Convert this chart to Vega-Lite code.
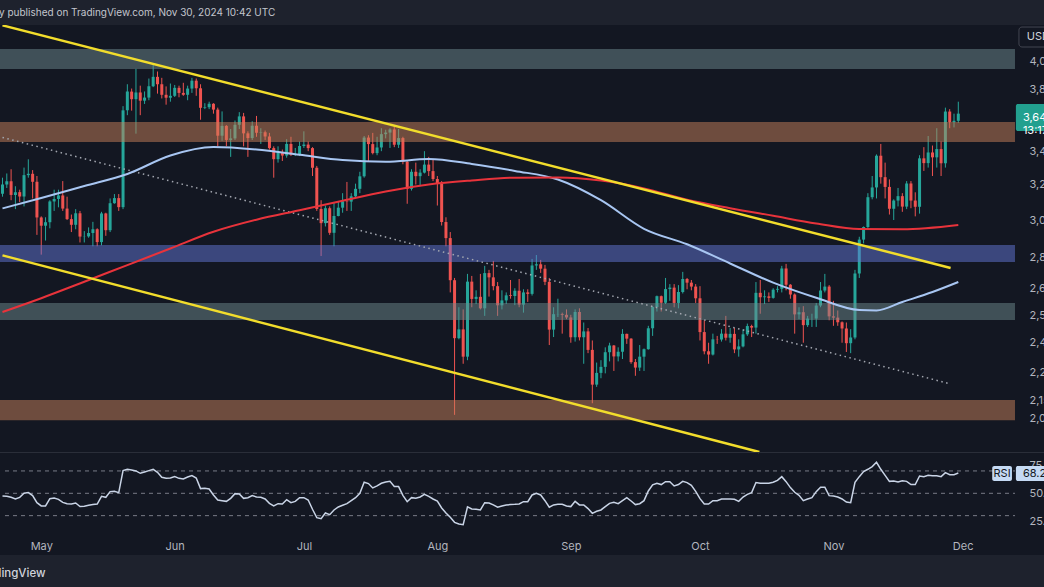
{
"$schema":"https://vega.github.io/schema/vega-lite/v6.json",
"width":1044,"height":530,
"autosize":{"type":"none"},
"padding":{"top":25,"left":0,"right":0,"bottom":32},
"background":"#1e222d",
"config":{"view":{"fill":"#131722","stroke":null},"font":"Inter"},
"title":{"text":"y published on TradingView.com, Nov 30, 2024 10:42 UTC","anchor":"start","frame":"group","offset":7,"dx":-1,"fontSize":10,"fontWeight":"normal","color":"#c3c6ce"},
"datasets":{
"candles":[
{"d":"2024-04-22","o":3147,"h":3240,"l":3130,"c":3200,"r":47.6},
{"d":"2024-04-23","o":3200,"h":3265,"l":3180,"c":3219,"r":47.3},
{"d":"2024-04-24","o":3219,"h":3290,"l":3110,"c":3140,"r":46.4},
{"d":"2024-04-25","o":3140,"h":3190,"l":3060,"c":3156,"r":44.9},
{"d":"2024-04-26","o":3156,"h":3170,"l":3100,"c":3131,"r":46.4},
{"d":"2024-04-27","o":3131,"h":3300,"l":3075,"c":3255,"r":50},
{"d":"2024-04-28","o":3255,"h":3350,"l":3240,"c":3263,"r":50.6},
{"d":"2024-04-29","o":3263,"h":3285,"l":3120,"c":3216,"r":47.9},
{"d":"2024-04-30","o":3216,"h":3250,"l":2920,"c":3014,"r":41.6},
{"d":"2024-05-01","o":3014,"h":3020,"l":2817,"c":2969,"r":38.7},
{"d":"2024-05-02","o":2969,"h":3015,"l":2890,"c":2988,"r":38.7},
{"d":"2024-05-03","o":2988,"h":3110,"l":2955,"c":3103,"r":45.2},
{"d":"2024-05-04","o":3103,"h":3170,"l":3050,"c":3117,"r":45.8},
{"d":"2024-05-05","o":3117,"h":3170,"l":3070,"c":3137,"r":44.6},
{"d":"2024-05-06","o":3137,"h":3220,"l":3050,"c":3063,"r":41.9},
{"d":"2024-05-07","o":3063,"h":3130,"l":3000,"c":3005,"r":40.7},
{"d":"2024-05-08","o":3005,"h":3030,"l":2935,"c":2974,"r":40.4},
{"d":"2024-05-09","o":2974,"h":3060,"l":2950,"c":3037,"r":41.3},
{"d":"2024-05-10","o":3037,"h":3050,"l":2880,"c":2911,"r":38.1},
{"d":"2024-05-11","o":2911,"h":2940,"l":2880,"c":2912,"r":38.4},
{"d":"2024-05-12","o":2912,"h":2960,"l":2905,"c":2930,"r":39.3},
{"d":"2024-05-13","o":2930,"h":2990,"l":2860,"c":2950,"r":39.9},
{"d":"2024-05-14","o":2950,"h":2955,"l":2860,"c":2882,"r":40.4},
{"d":"2024-05-15","o":2882,"h":3045,"l":2865,"c":3036,"r":47.3},
{"d":"2024-05-16","o":3036,"h":3040,"l":2915,"c":2945,"r":46.4},
{"d":"2024-05-17","o":2945,"h":3120,"l":2935,"c":3093,"r":51.5},
{"d":"2024-05-18","o":3093,"h":3145,"l":3090,"c":3122,"r":51.8},
{"d":"2024-05-19","o":3122,"h":3145,"l":3050,"c":3071,"r":50.6},
{"d":"2024-05-20","o":3071,"h":3690,"l":3060,"c":3662,"r":70.3},
{"d":"2024-05-21","o":3662,"h":3840,"l":3630,"c":3789,"r":71.5},
{"d":"2024-05-22","o":3789,"h":3810,"l":3660,"c":3737,"r":70.9},
{"d":"2024-05-23","o":3737,"h":3949,"l":3510,"c":3783,"r":70},
{"d":"2024-05-24","o":3783,"h":3830,"l":3630,"c":3727,"r":67.9},
{"d":"2024-05-25","o":3727,"h":3790,"l":3705,"c":3748,"r":69.1},
{"d":"2024-05-26","o":3748,"h":3880,"l":3730,"c":3826,"r":70.3},
{"d":"2024-05-27","o":3826,"h":3977,"l":3820,"c":3892,"r":71.5},
{"d":"2024-05-28","o":3892,"h":3930,"l":3775,"c":3840,"r":68.8},
{"d":"2024-05-29","o":3840,"h":3885,"l":3742,"c":3767,"r":64.3},
{"d":"2024-05-30","o":3767,"h":3825,"l":3700,"c":3747,"r":63.4},
{"d":"2024-05-31","o":3747,"h":3845,"l":3720,"c":3760,"r":63.7},
{"d":"2024-06-01","o":3760,"h":3835,"l":3752,"c":3815,"r":64.9},
{"d":"2024-06-02","o":3815,"h":3830,"l":3750,"c":3780,"r":63.4},
{"d":"2024-06-03","o":3780,"h":3850,"l":3760,"c":3767,"r":62.8},
{"d":"2024-06-04","o":3767,"h":3830,"l":3730,"c":3810,"r":64.6},
{"d":"2024-06-05","o":3810,"h":3885,"l":3780,"c":3865,"r":65.8},
{"d":"2024-06-06","o":3865,"h":3880,"l":3760,"c":3812,"r":63.7},
{"d":"2024-06-07","o":3812,"h":3840,"l":3600,"c":3679,"r":54.2},
{"d":"2024-06-08","o":3679,"h":3710,"l":3670,"c":3683,"r":54.5},
{"d":"2024-06-09","o":3683,"h":3720,"l":3670,"c":3706,"r":53.9},
{"d":"2024-06-10","o":3706,"h":3710,"l":3640,"c":3667,"r":48.5},
{"d":"2024-06-11","o":3667,"h":3680,"l":3430,"c":3497,"r":44},
{"d":"2024-06-12","o":3497,"h":3655,"l":3465,"c":3560,"r":43.4},
{"d":"2024-06-13","o":3560,"h":3565,"l":3430,"c":3470,"r":42.8},
{"d":"2024-06-14","o":3470,"h":3540,"l":3365,"c":3480,"r":45.5},
{"d":"2024-06-15","o":3480,"h":3595,"l":3470,"c":3567,"r":49.7},
{"d":"2024-06-16","o":3567,"h":3650,"l":3540,"c":3622,"r":49.4},
{"d":"2024-06-17","o":3622,"h":3645,"l":3430,"c":3512,"r":45.5},
{"d":"2024-06-18","o":3512,"h":3525,"l":3365,"c":3482,"r":46.1},
{"d":"2024-06-19","o":3482,"h":3590,"l":3470,"c":3561,"r":47.9},
{"d":"2024-06-20","o":3561,"h":3625,"l":3490,"c":3516,"r":46.7},
{"d":"2024-06-21","o":3516,"h":3545,"l":3445,"c":3519,"r":46.4},
{"d":"2024-06-22","o":3519,"h":3530,"l":3470,"c":3492,"r":44.9},
{"d":"2024-06-23","o":3492,"h":3515,"l":3410,"c":3419,"r":41},
{"d":"2024-06-24","o":3419,"h":3430,"l":3240,"c":3351,"r":38.7},
{"d":"2024-06-25","o":3351,"h":3430,"l":3330,"c":3394,"r":40.7},
{"d":"2024-06-26","o":3394,"h":3410,"l":3340,"c":3373,"r":40.4},
{"d":"2024-06-27","o":3373,"h":3475,"l":3360,"c":3445,"r":44.3},
{"d":"2024-06-28","o":3445,"h":3490,"l":3370,"c":3378,"r":41.6},
{"d":"2024-06-29","o":3378,"h":3420,"l":3370,"c":3381,"r":42.8},
{"d":"2024-06-30","o":3381,"h":3460,"l":3370,"c":3432,"r":46.1},
{"d":"2024-07-01","o":3432,"h":3525,"l":3420,"c":3441,"r":46.1},
{"d":"2024-07-02","o":3441,"h":3460,"l":3400,"c":3419,"r":44},
{"d":"2024-07-03","o":3419,"h":3425,"l":3250,"c":3299,"r":35.7},
{"d":"2024-07-04","o":3299,"h":3310,"l":3050,"c":3061,"r":28.2},
{"d":"2024-07-05","o":3061,"h":3110,"l":2810,"c":2983,"r":27.3},
{"d":"2024-07-06","o":2983,"h":3080,"l":2965,"c":3065,"r":32.4},
{"d":"2024-07-07","o":3065,"h":3075,"l":2920,"c":2931,"r":30.9},
{"d":"2024-07-08","o":2931,"h":3095,"l":2860,"c":3022,"r":35.1},
{"d":"2024-07-09","o":3022,"h":3100,"l":3020,"c":3068,"r":37.8},
{"d":"2024-07-10","o":3068,"h":3150,"l":3040,"c":3104,"r":39.3},
{"d":"2024-07-11","o":3104,"h":3215,"l":3050,"c":3102,"r":40.7},
{"d":"2024-07-12","o":3102,"h":3150,"l":3050,"c":3132,"r":43.4},
{"d":"2024-07-13","o":3132,"h":3205,"l":3120,"c":3175,"r":46.1},
{"d":"2024-07-14","o":3175,"h":3275,"l":3150,"c":3248,"r":50},
{"d":"2024-07-15","o":3248,"h":3495,"l":3240,"c":3485,"r":59.9},
{"d":"2024-07-16","o":3485,"h":3500,"l":3340,"c":3444,"r":58.7},
{"d":"2024-07-17","o":3444,"h":3515,"l":3380,"c":3388,"r":54.8},
{"d":"2024-07-18","o":3388,"h":3490,"l":3375,"c":3423,"r":56.6},
{"d":"2024-07-19","o":3423,"h":3545,"l":3400,"c":3507,"r":59},
{"d":"2024-07-20","o":3507,"h":3535,"l":3480,"c":3517,"r":60.1},
{"d":"2024-07-21","o":3517,"h":3545,"l":3420,"c":3537,"r":60.7},
{"d":"2024-07-22","o":3537,"h":3565,"l":3425,"c":3440,"r":56},
{"d":"2024-07-23","o":3440,"h":3540,"l":3420,"c":3482,"r":56},
{"d":"2024-07-24","o":3482,"h":3490,"l":3320,"c":3335,"r":48.2},
{"d":"2024-07-25","o":3335,"h":3345,"l":3090,"c":3175,"r":42.5},
{"d":"2024-07-26","o":3175,"h":3290,"l":3165,"c":3275,"r":46.1},
{"d":"2024-07-27","o":3275,"h":3330,"l":3200,"c":3249,"r":45.5},
{"d":"2024-07-28","o":3249,"h":3290,"l":3190,"c":3270,"r":46.7},
{"d":"2024-07-29","o":3270,"h":3400,"l":3265,"c":3318,"r":49.1},
{"d":"2024-07-30","o":3318,"h":3365,"l":3250,"c":3279,"r":47.3},
{"d":"2024-07-31","o":3279,"h":3350,"l":3220,"c":3232,"r":44.9},
{"d":"2024-08-01","o":3232,"h":3250,"l":3080,"c":3203,"r":43.1},
{"d":"2024-08-02","o":3203,"h":3220,"l":2970,"c":2989,"r":36.9},
{"d":"2024-08-03","o":2989,"h":3015,"l":2860,"c":2903,"r":32.4},
{"d":"2024-08-04","o":2903,"h":2935,"l":2630,"c":2689,"r":28.5},
{"d":"2024-08-05","o":2689,"h":2700,"l":2105,"c":2420,"r":24},
{"d":"2024-08-06","o":2420,"h":2560,"l":2415,"c":2459,"r":22.5},
{"d":"2024-08-07","o":2459,"h":2550,"l":2310,"c":2340,"r":21.9},
{"d":"2024-08-08","o":2340,"h":2720,"l":2325,"c":2682,"r":37.8},
{"d":"2024-08-09","o":2682,"h":2710,"l":2560,"c":2599,"r":36},
{"d":"2024-08-10","o":2599,"h":2640,"l":2575,"c":2609,"r":35.7},
{"d":"2024-08-11","o":2609,"h":2720,"l":2550,"c":2555,"r":35.1},
{"d":"2024-08-12","o":2555,"h":2760,"l":2520,"c":2724,"r":41.6},
{"d":"2024-08-13","o":2724,"h":2740,"l":2610,"c":2703,"r":41.3},
{"d":"2024-08-14","o":2703,"h":2785,"l":2640,"c":2660,"r":39.6},
{"d":"2024-08-15","o":2660,"h":2680,"l":2520,"c":2569,"r":37.5},
{"d":"2024-08-16","o":2569,"h":2640,"l":2550,"c":2592,"r":38.7},
{"d":"2024-08-17","o":2592,"h":2630,"l":2575,"c":2616,"r":39.6},
{"d":"2024-08-18","o":2616,"h":2690,"l":2600,"c":2613,"r":39.9},
{"d":"2024-08-19","o":2613,"h":2650,"l":2570,"c":2638,"r":40.1},
{"d":"2024-08-20","o":2638,"h":2695,"l":2560,"c":2572,"r":40.4},
{"d":"2024-08-21","o":2572,"h":2645,"l":2535,"c":2630,"r":42.5},
{"d":"2024-08-22","o":2630,"h":2645,"l":2585,"c":2623,"r":42.5},
{"d":"2024-08-23","o":2623,"h":2795,"l":2615,"c":2762,"r":48.5},
{"d":"2024-08-24","o":2762,"h":2815,"l":2740,"c":2768,"r":50},
{"d":"2024-08-25","o":2768,"h":2790,"l":2725,"c":2746,"r":48.5},
{"d":"2024-08-26","o":2746,"h":2765,"l":2665,"c":2681,"r":43.4},
{"d":"2024-08-27","o":2681,"h":2700,"l":2390,"c":2458,"r":37.5},
{"d":"2024-08-28","o":2458,"h":2560,"l":2425,"c":2528,"r":39.6},
{"d":"2024-08-29","o":2528,"h":2600,"l":2515,"c":2529,"r":40.1},
{"d":"2024-08-30","o":2529,"h":2535,"l":2440,"c":2525,"r":40.1},
{"d":"2024-08-31","o":2525,"h":2550,"l":2505,"c":2513,"r":38.7},
{"d":"2024-09-01","o":2513,"h":2525,"l":2400,"c":2424,"r":38.1},
{"d":"2024-09-02","o":2424,"h":2550,"l":2405,"c":2538,"r":42.8},
{"d":"2024-09-03","o":2538,"h":2555,"l":2410,"c":2424,"r":39.6},
{"d":"2024-09-04","o":2424,"h":2490,"l":2310,"c":2450,"r":39.6},
{"d":"2024-09-05","o":2450,"h":2465,"l":2355,"c":2369,"r":36.3},
{"d":"2024-09-06","o":2369,"h":2410,"l":2150,"c":2224,"r":32.1},
{"d":"2024-09-07","o":2224,"h":2315,"l":2215,"c":2272,"r":33.9},
{"d":"2024-09-08","o":2272,"h":2325,"l":2250,"c":2297,"r":35.1},
{"d":"2024-09-09","o":2297,"h":2380,"l":2270,"c":2359,"r":38.1},
{"d":"2024-09-10","o":2359,"h":2400,"l":2320,"c":2388,"r":41},
{"d":"2024-09-11","o":2388,"h":2390,"l":2280,"c":2341,"r":41.9},
{"d":"2024-09-12","o":2341,"h":2380,"l":2320,"c":2361,"r":40.7},
{"d":"2024-09-13","o":2361,"h":2460,"l":2330,"c":2439,"r":43.4},
{"d":"2024-09-14","o":2439,"h":2440,"l":2395,"c":2418,"r":46.1},
{"d":"2024-09-15","o":2418,"h":2420,"l":2310,"c":2317,"r":43.1},
{"d":"2024-09-16","o":2317,"h":2330,"l":2260,"c":2294,"r":39.9},
{"d":"2024-09-17","o":2294,"h":2390,"l":2280,"c":2340,"r":40.7},
{"d":"2024-09-18","o":2340,"h":2375,"l":2280,"c":2372,"r":43.4},
{"d":"2024-09-19","o":2372,"h":2475,"l":2370,"c":2464,"r":52.1},
{"d":"2024-09-20","o":2464,"h":2565,"l":2430,"c":2561,"r":57.5},
{"d":"2024-09-21","o":2561,"h":2615,"l":2540,"c":2612,"r":59},
{"d":"2024-09-22","o":2612,"h":2615,"l":2540,"c":2581,"r":57.8},
{"d":"2024-09-23","o":2581,"h":2700,"l":2575,"c":2646,"r":60.4},
{"d":"2024-09-24","o":2646,"h":2670,"l":2590,"c":2653,"r":60.4},
{"d":"2024-09-25","o":2653,"h":2670,"l":2560,"c":2580,"r":56.6},
{"d":"2024-09-26","o":2580,"h":2665,"l":2555,"c":2632,"r":57.8},
{"d":"2024-09-27","o":2632,"h":2730,"l":2625,"c":2695,"r":60.7},
{"d":"2024-09-28","o":2695,"h":2700,"l":2645,"c":2677,"r":59.6},
{"d":"2024-09-29","o":2677,"h":2690,"l":2640,"c":2658,"r":57.2},
{"d":"2024-09-30","o":2658,"h":2670,"l":2580,"c":2602,"r":51.8},
{"d":"2024-10-01","o":2602,"h":2660,"l":2410,"c":2447,"r":45.2},
{"d":"2024-10-02","o":2447,"h":2500,"l":2350,"c":2363,"r":40.4},
{"d":"2024-10-03","o":2363,"h":2400,"l":2310,"c":2349,"r":40.4},
{"d":"2024-10-04","o":2349,"h":2440,"l":2345,"c":2415,"r":43.4},
{"d":"2024-10-05","o":2415,"h":2430,"l":2395,"c":2414,"r":43.4},
{"d":"2024-10-06","o":2414,"h":2460,"l":2405,"c":2440,"r":44.9},
{"d":"2024-10-07","o":2440,"h":2520,"l":2410,"c":2422,"r":44.9},
{"d":"2024-10-08","o":2422,"h":2465,"l":2400,"c":2439,"r":44.9},
{"d":"2024-10-09","o":2439,"h":2465,"l":2355,"c":2371,"r":44.6},
{"d":"2024-10-10","o":2371,"h":2415,"l":2340,"c":2384,"r":42.8},
{"d":"2024-10-11","o":2384,"h":2460,"l":2380,"c":2437,"r":46.7},
{"d":"2024-10-12","o":2437,"h":2485,"l":2430,"c":2474,"r":49.1},
{"d":"2024-10-13","o":2474,"h":2480,"l":2425,"c":2467,"r":50.6},
{"d":"2024-10-14","o":2467,"h":2680,"l":2440,"c":2628,"r":59.6},
{"d":"2024-10-15","o":2628,"h":2690,"l":2530,"c":2607,"r":59},
{"d":"2024-10-16","o":2607,"h":2640,"l":2575,"c":2611,"r":59},
{"d":"2024-10-17","o":2611,"h":2630,"l":2585,"c":2604,"r":59},
{"d":"2024-10-18","o":2604,"h":2650,"l":2600,"c":2643,"r":59.9},
{"d":"2024-10-19","o":2643,"h":2660,"l":2630,"c":2647,"r":61.6},
{"d":"2024-10-20","o":2647,"h":2760,"l":2630,"c":2747,"r":64.9},
{"d":"2024-10-21","o":2747,"h":2770,"l":2640,"c":2667,"r":60.4},
{"d":"2024-10-22","o":2667,"h":2670,"l":2600,"c":2620,"r":55.1},
{"d":"2024-10-23","o":2620,"h":2625,"l":2440,"c":2527,"r":50.9},
{"d":"2024-10-24","o":2527,"h":2560,"l":2505,"c":2537,"r":48.2},
{"d":"2024-10-25","o":2537,"h":2565,"l":2400,"c":2478,"r":43.4},
{"d":"2024-10-26","o":2478,"h":2520,"l":2470,"c":2508,"r":44.9},
{"d":"2024-10-27","o":2508,"h":2530,"l":2470,"c":2508,"r":46.1},
{"d":"2024-10-28","o":2508,"h":2580,"l":2470,"c":2568,"r":51.5},
{"d":"2024-10-29","o":2568,"h":2680,"l":2560,"c":2639,"r":55.4},
{"d":"2024-10-30","o":2639,"h":2720,"l":2630,"c":2658,"r":55.4},
{"d":"2024-10-31","o":2658,"h":2665,"l":2500,"c":2518,"r":47.9},
{"d":"2024-11-01","o":2518,"h":2590,"l":2475,"c":2512,"r":47.6},
{"d":"2024-11-02","o":2512,"h":2545,"l":2475,"c":2491,"r":46.7},
{"d":"2024-11-03","o":2491,"h":2495,"l":2400,"c":2463,"r":44.9},
{"d":"2024-11-04","o":2463,"h":2490,"l":2360,"c":2398,"r":42.2},
{"d":"2024-11-05","o":2398,"h":2460,"l":2355,"c":2423,"r":41.6},
{"d":"2024-11-06","o":2423,"h":2740,"l":2415,"c":2722,"r":59.9},
{"d":"2024-11-07","o":2722,"h":2910,"l":2700,"c":2895,"r":64.9},
{"d":"2024-11-08","o":2895,"h":2965,"l":2875,"c":2962,"r":69.4},
{"d":"2024-11-09","o":2962,"h":3150,"l":2950,"c":3127,"r":71.5},
{"d":"2024-11-10","o":3127,"h":3250,"l":3115,"c":3183,"r":73.9},
{"d":"2024-11-11","o":3183,"h":3380,"l":3120,"c":3372,"r":77.8},
{"d":"2024-11-12","o":3372,"h":3445,"l":3205,"c":3243,"r":71.5},
{"d":"2024-11-13","o":3243,"h":3330,"l":3120,"c":3186,"r":66.1},
{"d":"2024-11-14","o":3186,"h":3230,"l":3030,"c":3062,"r":60.7},
{"d":"2024-11-15","o":3062,"h":3115,"l":3000,"c":3108,"r":61},
{"d":"2024-11-16","o":3108,"h":3180,"l":3075,"c":3133,"r":60.1},
{"d":"2024-11-17","o":3133,"h":3150,"l":3045,"c":3074,"r":61.3},
{"d":"2024-11-18","o":3074,"h":3220,"l":3060,"c":3206,"r":60.7},
{"d":"2024-11-19","o":3206,"h":3220,"l":3065,"c":3108,"r":57.8},
{"d":"2024-11-20","o":3108,"h":3155,"l":3020,"c":3073,"r":57.8},
{"d":"2024-11-21","o":3073,"h":3375,"l":3035,"c":3356,"r":65.5},
{"d":"2024-11-22","o":3356,"h":3425,"l":3280,"c":3327,"r":64.9},
{"d":"2024-11-23","o":3327,"h":3495,"l":3300,"c":3392,"r":66.1},
{"d":"2024-11-24","o":3392,"h":3435,"l":3250,"c":3362,"r":65.8},
{"d":"2024-11-25","o":3362,"h":3545,"l":3300,"c":3413,"r":65.8},
{"d":"2024-11-26","o":3413,"h":3460,"l":3250,"c":3326,"r":64.9},
{"d":"2024-11-27","o":3326,"h":3680,"l":3300,"c":3654,"r":68.5},
{"d":"2024-11-28","o":3654,"h":3670,"l":3545,"c":3584,"r":66.7},
{"d":"2024-11-29","o":3584,"h":3640,"l":3550,"c":3593,"r":66.7},
{"d":"2024-11-30","o":3593,"h":3720,"l":3580,"c":3640,"r":68.2}
],
"zones":[
{"z":"a","d":"2024-04-01","d2":"2024-12-13T04:00:00Z","p1":4094,"p2":3948},
{"z":"b","d":"2024-04-01","d2":"2024-12-13T04:00:00Z","p1":3585,"p2":3457},
{"z":"c","d":"2024-04-01","d2":"2024-12-13T04:00:00Z","p1":2867,"p2":2780},
{"z":"d","d":"2024-04-01","d2":"2024-12-13T04:00:00Z","p1":2580,"p2":2501},
{"z":"e","d":"2024-04-01","d2":"2024-12-13T04:00:00Z","p1":2163,"p2":2085}
],
"lines":[
{"s":"up","d":"2024-04-22","p":4273.6},
{"s":"up","d":"2024-11-28T05:00:00Z","p":2749.6},
{"s":"low","d":"2024-04-22","p":2813},
{"s":"low","d":"2024-10-14T19:00:00Z","p":1967.6},
{"s":"dot","d":"2024-04-22","p":3486},
{"s":"dot","d":"2024-11-28T05:00:00Z","p":2226.7},
{"s":"ma200","d":"2024-04-22","p":2538},
{"s":"ma200","d":"2024-05-01","p":2602.5},
{"s":"ma200","d":"2024-05-11","p":2681.3},
{"s":"ma200","d":"2024-05-21","p":2764.0},
{"s":"ma200","d":"2024-05-31","p":2848.7},
{"s":"ma200","d":"2024-06-10","p":2936.5},
{"s":"ma200","d":"2024-06-20","p":3001.7},
{"s":"ma200","d":"2024-06-30","p":3054.0},
{"s":"ma200","d":"2024-07-10","p":3107.3},
{"s":"ma200","d":"2024-07-20","p":3159.1},
{"s":"ma200","d":"2024-07-30","p":3200.7},
{"s":"ma200","d":"2024-08-09","p":3224.1},
{"s":"ma200","d":"2024-08-19","p":3240.0},
{"s":"ma200","d":"2024-08-29","p":3241.1},
{"s":"ma200","d":"2024-09-08","p":3222.9},
{"s":"ma200","d":"2024-09-18","p":3177.5},
{"s":"ma200","d":"2024-09-28","p":3112.9},
{"s":"ma200","d":"2024-10-08","p":3065.2},
{"s":"ma200","d":"2024-10-18","p":3023.1},
{"s":"ma200","d":"2024-10-28","p":2981.6},
{"s":"ma200","d":"2024-11-07","p":2950.9},
{"s":"ma200","d":"2024-11-17","p":2949.8},
{"s":"ma200","d":"2024-11-30","p":2973.0},
{"s":"ma100","d":"2024-04-22","p":3064},
{"s":"ma100","d":"2024-05-01","p":3122.5},
{"s":"ma100","d":"2024-05-11","p":3191.4},
{"s":"ma100","d":"2024-05-21","p":3261.8},
{"s":"ma100","d":"2024-05-31","p":3373.4},
{"s":"ma100","d":"2024-06-10","p":3425.9},
{"s":"ma100","d":"2024-06-20","p":3410.4},
{"s":"ma100","d":"2024-06-30","p":3378.3},
{"s":"ma100","d":"2024-07-10","p":3345.9},
{"s":"ma100","d":"2024-07-20","p":3334.9},
{"s":"ma100","d":"2024-07-30","p":3352.0},
{"s":"ma100","d":"2024-08-09","p":3322.2},
{"s":"ma100","d":"2024-08-19","p":3280.2},
{"s":"ma100","d":"2024-08-29","p":3229.3},
{"s":"ma100","d":"2024-09-08","p":3110.1},
{"s":"ma100","d":"2024-09-18","p":2952.5},
{"s":"ma100","d":"2024-09-28","p":2870.5},
{"s":"ma100","d":"2024-10-08","p":2772.0},
{"s":"ma100","d":"2024-10-18","p":2676.9},
{"s":"ma100","d":"2024-10-28","p":2604.4},
{"s":"ma100","d":"2024-11-07","p":2546.8},
{"s":"ma100","d":"2024-11-11","p":2544.9},
{"s":"ma100","d":"2024-11-17","p":2584.6},
{"s":"ma100","d":"2024-11-24","p":2632.0},
{"s":"ma100","d":"2024-11-30","p":2680.3}
]
},
"layer":[
{"layer":[
 {"data":{"name":"candles"},"mark":{"type":"rule","strokeWidth":1,"clip":true},
  "encoding":{
   "x":{"field":"d","type":"temporal","scale":{"type":"utc","domain":[{"year":2024,"month":4,"date":22,"hours":14,"utc":true},{"year":2024,"month":12,"date":13,"hours":4,"utc":true}],"range":[0,1020]},"axis":{"orient":"bottom","offset":-17,"values":[{"year":2024,"month":5,"date":1,"utc":true},{"year":2024,"month":6,"date":1,"utc":true},{"year":2024,"month":7,"date":1,"utc":true},{"year":2024,"month":8,"date":1,"utc":true},{"year":2024,"month":9,"date":1,"utc":true},{"year":2024,"month":10,"date":1,"utc":true},{"year":2024,"month":11,"date":1,"utc":true},{"year":2024,"month":12,"date":1,"utc":true}],"format":"%b","domain":false,"ticks":false,"tickSize":0,"grid":false,"labelColor":"#b2b5be","labelFontSize":11,"labelPadding":2,"labelFlush":false,"labelOverlap":false,"title":"TradingView","titleAnchor":"start","titleAlign":"left","titleX":-24,"titleY":35,"titleBaseline":"middle","titleColor":"#d1d4dc","titleFontSize":11.5,"titleFontWeight":500}},
   "y":{"field":"l","type":"quantitative","scale":{"type":"log","domain":[1967.6,4276.7],"range":[427,0],"nice":false},"axis":{"orient":"right","offset":-24,"values":[4000,3800,3400,3200,3000,2800,2651,2520,2400,2275,2159,2093],"format":",.0f","domain":false,"ticks":false,"tickSize":0,"grid":false,"labelColor":"#b2b5be","labelFontSize":11,"labelPadding":9,"labelAlign":"left","labelBaseline":"middle","labelOverlap":false,"labelFlush":false,"labelBound":false,"title":null}},
   "y2":{"field":"h"},
   "color":{"condition":{"test":"datum.c >= datum.o","value":"#26a69a"},"value":"#ef5350"}}},
 {"data":{"name":"candles"},"mark":{"type":"bar","size":3,"clip":true},
  "encoding":{
   "x":{"field":"d","type":"temporal","scale":{"type":"utc","domain":[{"year":2024,"month":4,"date":22,"hours":14,"utc":true},{"year":2024,"month":12,"date":13,"hours":4,"utc":true}],"range":[0,1020]},"axis":{"orient":"bottom","offset":-17,"values":[{"year":2024,"month":5,"date":1,"utc":true},{"year":2024,"month":6,"date":1,"utc":true},{"year":2024,"month":7,"date":1,"utc":true},{"year":2024,"month":8,"date":1,"utc":true},{"year":2024,"month":9,"date":1,"utc":true},{"year":2024,"month":10,"date":1,"utc":true},{"year":2024,"month":11,"date":1,"utc":true},{"year":2024,"month":12,"date":1,"utc":true}],"format":"%b","domain":false,"ticks":false,"tickSize":0,"grid":false,"labelColor":"#b2b5be","labelFontSize":11,"labelPadding":2,"labelFlush":false,"labelOverlap":false,"title":"TradingView","titleAnchor":"start","titleAlign":"left","titleX":-24,"titleY":35,"titleBaseline":"middle","titleColor":"#d1d4dc","titleFontSize":11.5,"titleFontWeight":500}},
   "y":{"field":"o","type":"quantitative","scale":{"type":"log","domain":[1967.6,4276.7],"range":[427,0],"nice":false},"axis":{"orient":"right","offset":-24,"values":[4000,3800,3400,3200,3000,2800,2651,2520,2400,2275,2159,2093],"format":",.0f","domain":false,"ticks":false,"tickSize":0,"grid":false,"labelColor":"#b2b5be","labelFontSize":11,"labelPadding":9,"labelAlign":"left","labelBaseline":"middle","labelOverlap":false,"labelFlush":false,"labelBound":false,"title":null}},
   "y2":{"field":"c"},
   "color":{"condition":{"test":"datum.c >= datum.o","value":"#26a69a"},"value":"#ef5350"}}},
 {"data":{"name":"zones"},"mark":{"type":"rect","opacity":0.5,"clip":true},
  "encoding":{
   "x":{"field":"d","type":"temporal","scale":{"type":"utc","domain":[{"year":2024,"month":4,"date":22,"hours":14,"utc":true},{"year":2024,"month":12,"date":13,"hours":4,"utc":true}],"range":[0,1020]},"axis":{"orient":"bottom","offset":-17,"values":[{"year":2024,"month":5,"date":1,"utc":true},{"year":2024,"month":6,"date":1,"utc":true},{"year":2024,"month":7,"date":1,"utc":true},{"year":2024,"month":8,"date":1,"utc":true},{"year":2024,"month":9,"date":1,"utc":true},{"year":2024,"month":10,"date":1,"utc":true},{"year":2024,"month":11,"date":1,"utc":true},{"year":2024,"month":12,"date":1,"utc":true}],"format":"%b","domain":false,"ticks":false,"tickSize":0,"grid":false,"labelColor":"#b2b5be","labelFontSize":11,"labelPadding":2,"labelFlush":false,"labelOverlap":false,"title":"TradingView","titleAnchor":"start","titleAlign":"left","titleX":-24,"titleY":35,"titleBaseline":"middle","titleColor":"#d1d4dc","titleFontSize":11.5,"titleFontWeight":500}},
   "x2":{"field":"d2"},
   "y":{"field":"p1","type":"quantitative","scale":{"type":"log","domain":[1967.6,4276.7],"range":[427,0],"nice":false},"axis":{"orient":"right","offset":-24,"values":[4000,3800,3400,3200,3000,2800,2651,2520,2400,2275,2159,2093],"format":",.0f","domain":false,"ticks":false,"tickSize":0,"grid":false,"labelColor":"#b2b5be","labelFontSize":11,"labelPadding":9,"labelAlign":"left","labelBaseline":"middle","labelOverlap":false,"labelFlush":false,"labelBound":false,"title":null}},
   "y2":{"field":"p2"},
   "color":{"field":"z","type":"nominal","scale":{"domain":["a","b","c","d","e"],"range":["#6e8a8e","#c98159","#6478d8","#6d898c","#c98159"]},"legend":null}}},
 {"data":{"name":"lines"},"transform":[{"filter":"datum.s === 'dot'"}],
  "mark":{"type":"line","color":"#a3a7b0","strokeWidth":1.5,"strokeDash":[1.5,3.5],"clip":true},
  "encoding":{
   "x":{"field":"d","type":"temporal","scale":{"type":"utc","domain":[{"year":2024,"month":4,"date":22,"hours":14,"utc":true},{"year":2024,"month":12,"date":13,"hours":4,"utc":true}],"range":[0,1020]},"axis":{"orient":"bottom","offset":-17,"values":[{"year":2024,"month":5,"date":1,"utc":true},{"year":2024,"month":6,"date":1,"utc":true},{"year":2024,"month":7,"date":1,"utc":true},{"year":2024,"month":8,"date":1,"utc":true},{"year":2024,"month":9,"date":1,"utc":true},{"year":2024,"month":10,"date":1,"utc":true},{"year":2024,"month":11,"date":1,"utc":true},{"year":2024,"month":12,"date":1,"utc":true}],"format":"%b","domain":false,"ticks":false,"tickSize":0,"grid":false,"labelColor":"#b2b5be","labelFontSize":11,"labelPadding":2,"labelFlush":false,"labelOverlap":false,"title":"TradingView","titleAnchor":"start","titleAlign":"left","titleX":-24,"titleY":35,"titleBaseline":"middle","titleColor":"#d1d4dc","titleFontSize":11.5,"titleFontWeight":500}},
   "y":{"field":"p","type":"quantitative","scale":{"type":"log","domain":[1967.6,4276.7],"range":[427,0],"nice":false},"axis":{"orient":"right","offset":-24,"values":[4000,3800,3400,3200,3000,2800,2651,2520,2400,2275,2159,2093],"format":",.0f","domain":false,"ticks":false,"tickSize":0,"grid":false,"labelColor":"#b2b5be","labelFontSize":11,"labelPadding":9,"labelAlign":"left","labelBaseline":"middle","labelOverlap":false,"labelFlush":false,"labelBound":false,"title":null}}}},
 {"data":{"name":"lines"},"transform":[{"filter":"datum.s === 'ma100'"}],
  "mark":{"type":"line","color":"#a8c6f2","strokeWidth":2,"interpolate":"monotone","clip":true},
  "encoding":{
   "x":{"field":"d","type":"temporal","scale":{"type":"utc","domain":[{"year":2024,"month":4,"date":22,"hours":14,"utc":true},{"year":2024,"month":12,"date":13,"hours":4,"utc":true}],"range":[0,1020]},"axis":{"orient":"bottom","offset":-17,"values":[{"year":2024,"month":5,"date":1,"utc":true},{"year":2024,"month":6,"date":1,"utc":true},{"year":2024,"month":7,"date":1,"utc":true},{"year":2024,"month":8,"date":1,"utc":true},{"year":2024,"month":9,"date":1,"utc":true},{"year":2024,"month":10,"date":1,"utc":true},{"year":2024,"month":11,"date":1,"utc":true},{"year":2024,"month":12,"date":1,"utc":true}],"format":"%b","domain":false,"ticks":false,"tickSize":0,"grid":false,"labelColor":"#b2b5be","labelFontSize":11,"labelPadding":2,"labelFlush":false,"labelOverlap":false,"title":"TradingView","titleAnchor":"start","titleAlign":"left","titleX":-24,"titleY":35,"titleBaseline":"middle","titleColor":"#d1d4dc","titleFontSize":11.5,"titleFontWeight":500}},
   "y":{"field":"p","type":"quantitative","scale":{"type":"log","domain":[1967.6,4276.7],"range":[427,0],"nice":false},"axis":{"orient":"right","offset":-24,"values":[4000,3800,3400,3200,3000,2800,2651,2520,2400,2275,2159,2093],"format":",.0f","domain":false,"ticks":false,"tickSize":0,"grid":false,"labelColor":"#b2b5be","labelFontSize":11,"labelPadding":9,"labelAlign":"left","labelBaseline":"middle","labelOverlap":false,"labelFlush":false,"labelBound":false,"title":null}}}},
 {"data":{"name":"lines"},"transform":[{"filter":"datum.s === 'ma200'"}],
  "mark":{"type":"line","color":"#e8333b","strokeWidth":2,"interpolate":"monotone","clip":true},
  "encoding":{
   "x":{"field":"d","type":"temporal","scale":{"type":"utc","domain":[{"year":2024,"month":4,"date":22,"hours":14,"utc":true},{"year":2024,"month":12,"date":13,"hours":4,"utc":true}],"range":[0,1020]},"axis":{"orient":"bottom","offset":-17,"values":[{"year":2024,"month":5,"date":1,"utc":true},{"year":2024,"month":6,"date":1,"utc":true},{"year":2024,"month":7,"date":1,"utc":true},{"year":2024,"month":8,"date":1,"utc":true},{"year":2024,"month":9,"date":1,"utc":true},{"year":2024,"month":10,"date":1,"utc":true},{"year":2024,"month":11,"date":1,"utc":true},{"year":2024,"month":12,"date":1,"utc":true}],"format":"%b","domain":false,"ticks":false,"tickSize":0,"grid":false,"labelColor":"#b2b5be","labelFontSize":11,"labelPadding":2,"labelFlush":false,"labelOverlap":false,"title":"TradingView","titleAnchor":"start","titleAlign":"left","titleX":-24,"titleY":35,"titleBaseline":"middle","titleColor":"#d1d4dc","titleFontSize":11.5,"titleFontWeight":500}},
   "y":{"field":"p","type":"quantitative","scale":{"type":"log","domain":[1967.6,4276.7],"range":[427,0],"nice":false},"axis":{"orient":"right","offset":-24,"values":[4000,3800,3400,3200,3000,2800,2651,2520,2400,2275,2159,2093],"format":",.0f","domain":false,"ticks":false,"tickSize":0,"grid":false,"labelColor":"#b2b5be","labelFontSize":11,"labelPadding":9,"labelAlign":"left","labelBaseline":"middle","labelOverlap":false,"labelFlush":false,"labelBound":false,"title":null}}}},
 {"data":{"name":"lines"},"transform":[{"filter":"datum.s === 'up' || datum.s === 'low'"}],
  "mark":{"type":"line","color":"#f2dd2c","strokeWidth":2.5,"clip":true},
  "encoding":{
   "x":{"field":"d","type":"temporal","scale":{"type":"utc","domain":[{"year":2024,"month":4,"date":22,"hours":14,"utc":true},{"year":2024,"month":12,"date":13,"hours":4,"utc":true}],"range":[0,1020]},"axis":{"orient":"bottom","offset":-17,"values":[{"year":2024,"month":5,"date":1,"utc":true},{"year":2024,"month":6,"date":1,"utc":true},{"year":2024,"month":7,"date":1,"utc":true},{"year":2024,"month":8,"date":1,"utc":true},{"year":2024,"month":9,"date":1,"utc":true},{"year":2024,"month":10,"date":1,"utc":true},{"year":2024,"month":11,"date":1,"utc":true},{"year":2024,"month":12,"date":1,"utc":true}],"format":"%b","domain":false,"ticks":false,"tickSize":0,"grid":false,"labelColor":"#b2b5be","labelFontSize":11,"labelPadding":2,"labelFlush":false,"labelOverlap":false,"title":"TradingView","titleAnchor":"start","titleAlign":"left","titleX":-24,"titleY":35,"titleBaseline":"middle","titleColor":"#d1d4dc","titleFontSize":11.5,"titleFontWeight":500}},
   "y":{"field":"p","type":"quantitative","scale":{"type":"log","domain":[1967.6,4276.7],"range":[427,0],"nice":false},"axis":{"orient":"right","offset":-24,"values":[4000,3800,3400,3200,3000,2800,2651,2520,2400,2275,2159,2093],"format":",.0f","domain":false,"ticks":false,"tickSize":0,"grid":false,"labelColor":"#b2b5be","labelFontSize":11,"labelPadding":9,"labelAlign":"left","labelBaseline":"middle","labelOverlap":false,"labelFlush":false,"labelBound":false,"title":null}},
   "detail":{"field":"s","type":"nominal"}}},
 {"data":{"values":[{"t":"price"}]},"mark":{"type":"rect","fill":"#22a08f","cornerRadius":2,"clip":true},
  "encoding":{
   "x":{"datum":{"year":2024,"month":12,"date":13,"hours":9,"utc":true},"type":"temporal","scale":{"type":"utc","domain":[{"year":2024,"month":4,"date":22,"hours":14,"utc":true},{"year":2024,"month":12,"date":13,"hours":4,"utc":true}],"range":[0,1020]},"axis":{"orient":"bottom","offset":-17,"values":[{"year":2024,"month":5,"date":1,"utc":true},{"year":2024,"month":6,"date":1,"utc":true},{"year":2024,"month":7,"date":1,"utc":true},{"year":2024,"month":8,"date":1,"utc":true},{"year":2024,"month":9,"date":1,"utc":true},{"year":2024,"month":10,"date":1,"utc":true},{"year":2024,"month":11,"date":1,"utc":true},{"year":2024,"month":12,"date":1,"utc":true}],"format":"%b","domain":false,"ticks":false,"tickSize":0,"grid":false,"labelColor":"#b2b5be","labelFontSize":11,"labelPadding":2,"labelFlush":false,"labelOverlap":false,"title":"TradingView","titleAnchor":"start","titleAlign":"left","titleX":-24,"titleY":35,"titleBaseline":"middle","titleColor":"#d1d4dc","titleFontSize":11.5,"titleFontWeight":500}},
   "x2":{"datum":{"year":2024,"month":12,"date":22,"utc":true}},
   "y":{"datum":3704,"type":"quantitative","scale":{"type":"log","domain":[1967.6,4276.7],"range":[427,0],"nice":false},"axis":{"orient":"right","offset":-24,"values":[4000,3800,3400,3200,3000,2800,2651,2520,2400,2275,2159,2093],"format":",.0f","domain":false,"ticks":false,"tickSize":0,"grid":false,"labelColor":"#b2b5be","labelFontSize":11,"labelPadding":9,"labelAlign":"left","labelBaseline":"middle","labelOverlap":false,"labelFlush":false,"labelBound":false,"title":null}},
   "y2":{"datum":3527}}},
 {"data":{"values":[{"t":"3,641.50\n13:17:28"}]},"mark":{"type":"text","align":"left","baseline":"middle","lineBreak":"\n","lineHeight":13,"fontSize":11,"color":"#ffffff","clip":true},
  "encoding":{
   "x":{"datum":{"year":2024,"month":12,"date":15,"utc":true},"type":"temporal","scale":{"type":"utc","domain":[{"year":2024,"month":4,"date":22,"hours":14,"utc":true},{"year":2024,"month":12,"date":13,"hours":4,"utc":true}],"range":[0,1020]},"axis":{"orient":"bottom","offset":-17,"values":[{"year":2024,"month":5,"date":1,"utc":true},{"year":2024,"month":6,"date":1,"utc":true},{"year":2024,"month":7,"date":1,"utc":true},{"year":2024,"month":8,"date":1,"utc":true},{"year":2024,"month":9,"date":1,"utc":true},{"year":2024,"month":10,"date":1,"utc":true},{"year":2024,"month":11,"date":1,"utc":true},{"year":2024,"month":12,"date":1,"utc":true}],"format":"%b","domain":false,"ticks":false,"tickSize":0,"grid":false,"labelColor":"#b2b5be","labelFontSize":11,"labelPadding":2,"labelFlush":false,"labelOverlap":false,"title":"TradingView","titleAnchor":"start","titleAlign":"left","titleX":-24,"titleY":35,"titleBaseline":"middle","titleColor":"#d1d4dc","titleFontSize":11.5,"titleFontWeight":500}},
   "y":{"datum":3614,"type":"quantitative","scale":{"type":"log","domain":[1967.6,4276.7],"range":[427,0],"nice":false},"axis":{"orient":"right","offset":-24,"values":[4000,3800,3400,3200,3000,2800,2651,2520,2400,2275,2159,2093],"format":",.0f","domain":false,"ticks":false,"tickSize":0,"grid":false,"labelColor":"#b2b5be","labelFontSize":11,"labelPadding":9,"labelAlign":"left","labelBaseline":"middle","labelOverlap":false,"labelFlush":false,"labelBound":false,"title":null}},
   "text":{"field":"t"}}},
 {"data":{"values":[{"t":"usd"}]},"mark":{"type":"rect","fill":"#131722","stroke":"#434651","strokeWidth":1,"cornerRadius":3,"clip":true},
  "encoding":{
   "x":{"datum":{"year":2024,"month":12,"date":14,"hours":2,"utc":true},"type":"temporal","scale":{"type":"utc","domain":[{"year":2024,"month":4,"date":22,"hours":14,"utc":true},{"year":2024,"month":12,"date":13,"hours":4,"utc":true}],"range":[0,1020]},"axis":{"orient":"bottom","offset":-17,"values":[{"year":2024,"month":5,"date":1,"utc":true},{"year":2024,"month":6,"date":1,"utc":true},{"year":2024,"month":7,"date":1,"utc":true},{"year":2024,"month":8,"date":1,"utc":true},{"year":2024,"month":9,"date":1,"utc":true},{"year":2024,"month":10,"date":1,"utc":true},{"year":2024,"month":11,"date":1,"utc":true},{"year":2024,"month":12,"date":1,"utc":true}],"format":"%b","domain":false,"ticks":false,"tickSize":0,"grid":false,"labelColor":"#b2b5be","labelFontSize":11,"labelPadding":2,"labelFlush":false,"labelOverlap":false,"title":"TradingView","titleAnchor":"start","titleAlign":"left","titleX":-24,"titleY":35,"titleBaseline":"middle","titleColor":"#d1d4dc","titleFontSize":11.5,"titleFontWeight":500}},
   "x2":{"datum":{"year":2024,"month":12,"date":22,"utc":true}},
   "y":{"datum":4261,"type":"quantitative","scale":{"type":"log","domain":[1967.6,4276.7],"range":[427,0],"nice":false},"axis":{"orient":"right","offset":-24,"values":[4000,3800,3400,3200,3000,2800,2651,2520,2400,2275,2159,2093],"format":",.0f","domain":false,"ticks":false,"tickSize":0,"grid":false,"labelColor":"#b2b5be","labelFontSize":11,"labelPadding":9,"labelAlign":"left","labelBaseline":"middle","labelOverlap":false,"labelFlush":false,"labelBound":false,"title":null}},
   "y2":{"datum":4109}}},
 {"data":{"values":[{"t":"USD"}]},"mark":{"type":"text","align":"left","baseline":"middle","fontSize":11,"color":"#d1d4dc","clip":true},
  "encoding":{
   "x":{"datum":{"year":2024,"month":12,"date":15,"hours":22,"utc":true},"type":"temporal","scale":{"type":"utc","domain":[{"year":2024,"month":4,"date":22,"hours":14,"utc":true},{"year":2024,"month":12,"date":13,"hours":4,"utc":true}],"range":[0,1020]},"axis":{"orient":"bottom","offset":-17,"values":[{"year":2024,"month":5,"date":1,"utc":true},{"year":2024,"month":6,"date":1,"utc":true},{"year":2024,"month":7,"date":1,"utc":true},{"year":2024,"month":8,"date":1,"utc":true},{"year":2024,"month":9,"date":1,"utc":true},{"year":2024,"month":10,"date":1,"utc":true},{"year":2024,"month":11,"date":1,"utc":true},{"year":2024,"month":12,"date":1,"utc":true}],"format":"%b","domain":false,"ticks":false,"tickSize":0,"grid":false,"labelColor":"#b2b5be","labelFontSize":11,"labelPadding":2,"labelFlush":false,"labelOverlap":false,"title":"TradingView","titleAnchor":"start","titleAlign":"left","titleX":-24,"titleY":35,"titleBaseline":"middle","titleColor":"#d1d4dc","titleFontSize":11.5,"titleFontWeight":500}},
   "y":{"datum":4185,"type":"quantitative","scale":{"type":"log","domain":[1967.6,4276.7],"range":[427,0],"nice":false},"axis":{"orient":"right","offset":-24,"values":[4000,3800,3400,3200,3000,2800,2651,2520,2400,2275,2159,2093],"format":",.0f","domain":false,"ticks":false,"tickSize":0,"grid":false,"labelColor":"#b2b5be","labelFontSize":11,"labelPadding":9,"labelAlign":"left","labelBaseline":"middle","labelOverlap":false,"labelFlush":false,"labelBound":false,"title":null}},
   "text":{"field":"t"}}}
]},
{"layer":[
 {"data":{"values":[{"t":"divider"}]},"mark":{"type":"rule","color":"#2a2e39","strokeWidth":1},
  "encoding":{"y":{"datum":86.5,"type":"quantitative","scale":{"type":"linear","domain":[17.16,86.96],"range":[505,427],"nice":false,"zero":false},"axis":{"orient":"right","offset":-24,"values":[75,50,25],"format":".2f","domain":false,"ticks":false,"tickSize":0,"grid":false,"labelColor":"#b2b5be","labelFontSize":11,"labelPadding":9,"labelAlign":"left","labelBaseline":"middle","labelOverlap":false,"labelFlush":false,"labelBound":false,"title":null}}}},
 {"data":{"values":[{"lv":70},{"lv":50},{"lv":30}]},"mark":{"type":"rule","color":"#787b86","strokeWidth":1,"strokeDash":[4,4],"clip":true},
  "encoding":{
   "x":{"datum":{"year":2024,"month":4,"date":22,"hours":14,"utc":true},"type":"temporal","scale":{"type":"utc","domain":[{"year":2024,"month":4,"date":22,"hours":14,"utc":true},{"year":2024,"month":12,"date":13,"hours":4,"utc":true}],"range":[0,1020]},"axis":{"orient":"bottom","offset":-17,"values":[{"year":2024,"month":5,"date":1,"utc":true},{"year":2024,"month":6,"date":1,"utc":true},{"year":2024,"month":7,"date":1,"utc":true},{"year":2024,"month":8,"date":1,"utc":true},{"year":2024,"month":9,"date":1,"utc":true},{"year":2024,"month":10,"date":1,"utc":true},{"year":2024,"month":11,"date":1,"utc":true},{"year":2024,"month":12,"date":1,"utc":true}],"format":"%b","domain":false,"ticks":false,"tickSize":0,"grid":false,"labelColor":"#b2b5be","labelFontSize":11,"labelPadding":2,"labelFlush":false,"labelOverlap":false,"title":"TradingView","titleAnchor":"start","titleAlign":"left","titleX":-24,"titleY":35,"titleBaseline":"middle","titleColor":"#d1d4dc","titleFontSize":11.5,"titleFontWeight":500}},
   "x2":{"datum":{"year":2024,"month":12,"date":13,"hours":4,"utc":true}},
   "y":{"field":"lv","type":"quantitative","scale":{"type":"linear","domain":[17.16,86.96],"range":[505,427],"nice":false,"zero":false},"axis":{"orient":"right","offset":-24,"values":[75,50,25],"format":".2f","domain":false,"ticks":false,"tickSize":0,"grid":false,"labelColor":"#b2b5be","labelFontSize":11,"labelPadding":9,"labelAlign":"left","labelBaseline":"middle","labelOverlap":false,"labelFlush":false,"labelBound":false,"title":null}}}},
 {"data":{"name":"candles"},"mark":{"type":"line","color":"#c9d4e6","strokeWidth":1.5,"clip":true},
  "encoding":{
   "x":{"field":"d","type":"temporal","scale":{"type":"utc","domain":[{"year":2024,"month":4,"date":22,"hours":14,"utc":true},{"year":2024,"month":12,"date":13,"hours":4,"utc":true}],"range":[0,1020]},"axis":{"orient":"bottom","offset":-17,"values":[{"year":2024,"month":5,"date":1,"utc":true},{"year":2024,"month":6,"date":1,"utc":true},{"year":2024,"month":7,"date":1,"utc":true},{"year":2024,"month":8,"date":1,"utc":true},{"year":2024,"month":9,"date":1,"utc":true},{"year":2024,"month":10,"date":1,"utc":true},{"year":2024,"month":11,"date":1,"utc":true},{"year":2024,"month":12,"date":1,"utc":true}],"format":"%b","domain":false,"ticks":false,"tickSize":0,"grid":false,"labelColor":"#b2b5be","labelFontSize":11,"labelPadding":2,"labelFlush":false,"labelOverlap":false,"title":"TradingView","titleAnchor":"start","titleAlign":"left","titleX":-24,"titleY":35,"titleBaseline":"middle","titleColor":"#d1d4dc","titleFontSize":11.5,"titleFontWeight":500}},
   "y":{"field":"r","type":"quantitative","scale":{"type":"linear","domain":[17.16,86.96],"range":[505,427],"nice":false,"zero":false},"axis":{"orient":"right","offset":-24,"values":[75,50,25],"format":".2f","domain":false,"ticks":false,"tickSize":0,"grid":false,"labelColor":"#b2b5be","labelFontSize":11,"labelPadding":9,"labelAlign":"left","labelBaseline":"middle","labelOverlap":false,"labelFlush":false,"labelBound":false,"title":null}}}},
 {"data":{"values":[{"t":"rsibox"}]},"mark":{"type":"rect","fill":"#c5daf4","cornerRadius":2,"clip":true},
  "encoding":{
   "x":{"datum":{"year":2024,"month":12,"date":7,"hours":21,"utc":true},"type":"temporal","scale":{"type":"utc","domain":[{"year":2024,"month":4,"date":22,"hours":14,"utc":true},{"year":2024,"month":12,"date":13,"hours":4,"utc":true}],"range":[0,1020]},"axis":{"orient":"bottom","offset":-17,"values":[{"year":2024,"month":5,"date":1,"utc":true},{"year":2024,"month":6,"date":1,"utc":true},{"year":2024,"month":7,"date":1,"utc":true},{"year":2024,"month":8,"date":1,"utc":true},{"year":2024,"month":9,"date":1,"utc":true},{"year":2024,"month":10,"date":1,"utc":true},{"year":2024,"month":11,"date":1,"utc":true},{"year":2024,"month":12,"date":1,"utc":true}],"format":"%b","domain":false,"ticks":false,"tickSize":0,"grid":false,"labelColor":"#b2b5be","labelFontSize":11,"labelPadding":2,"labelFlush":false,"labelOverlap":false,"title":"TradingView","titleAnchor":"start","titleAlign":"left","titleX":-24,"titleY":35,"titleBaseline":"middle","titleColor":"#d1d4dc","titleFontSize":11.5,"titleFontWeight":500}},
   "x2":{"datum":{"year":2024,"month":12,"date":12,"hours":11,"utc":true}},
   "y":{"datum":74.4,"type":"quantitative","scale":{"type":"linear","domain":[17.16,86.96],"range":[505,427],"nice":false,"zero":false},"axis":{"orient":"right","offset":-24,"values":[75,50,25],"format":".2f","domain":false,"ticks":false,"tickSize":0,"grid":false,"labelColor":"#b2b5be","labelFontSize":11,"labelPadding":9,"labelAlign":"left","labelBaseline":"middle","labelOverlap":false,"labelFlush":false,"labelBound":false,"title":null}},
   "y2":{"datum":61.0}}},
 {"data":{"values":[{"t":"valbox"}]},"mark":{"type":"rect","fill":"#c5daf4","cornerRadius":2,"clip":true},
  "encoding":{
   "x":{"datum":{"year":2024,"month":12,"date":13,"hours":9,"utc":true},"type":"temporal","scale":{"type":"utc","domain":[{"year":2024,"month":4,"date":22,"hours":14,"utc":true},{"year":2024,"month":12,"date":13,"hours":4,"utc":true}],"range":[0,1020]},"axis":{"orient":"bottom","offset":-17,"values":[{"year":2024,"month":5,"date":1,"utc":true},{"year":2024,"month":6,"date":1,"utc":true},{"year":2024,"month":7,"date":1,"utc":true},{"year":2024,"month":8,"date":1,"utc":true},{"year":2024,"month":9,"date":1,"utc":true},{"year":2024,"month":10,"date":1,"utc":true},{"year":2024,"month":11,"date":1,"utc":true},{"year":2024,"month":12,"date":1,"utc":true}],"format":"%b","domain":false,"ticks":false,"tickSize":0,"grid":false,"labelColor":"#b2b5be","labelFontSize":11,"labelPadding":2,"labelFlush":false,"labelOverlap":false,"title":"TradingView","titleAnchor":"start","titleAlign":"left","titleX":-24,"titleY":35,"titleBaseline":"middle","titleColor":"#d1d4dc","titleFontSize":11.5,"titleFontWeight":500}},
   "x2":{"datum":{"year":2024,"month":12,"date":22,"utc":true}},
   "y":{"datum":74.4,"type":"quantitative","scale":{"type":"linear","domain":[17.16,86.96],"range":[505,427],"nice":false,"zero":false},"axis":{"orient":"right","offset":-24,"values":[75,50,25],"format":".2f","domain":false,"ticks":false,"tickSize":0,"grid":false,"labelColor":"#b2b5be","labelFontSize":11,"labelPadding":9,"labelAlign":"left","labelBaseline":"middle","labelOverlap":false,"labelFlush":false,"labelBound":false,"title":null}},
   "y2":{"datum":61.0}}},
 {"data":{"values":[{"t":"RSI"}]},"mark":{"type":"text","align":"center","baseline":"middle","fontSize":11,"color":"#131722","clip":true},
  "encoding":{
   "x":{"datum":{"year":2024,"month":12,"date":10,"hours":4,"utc":true},"type":"temporal","scale":{"type":"utc","domain":[{"year":2024,"month":4,"date":22,"hours":14,"utc":true},{"year":2024,"month":12,"date":13,"hours":4,"utc":true}],"range":[0,1020]},"axis":{"orient":"bottom","offset":-17,"values":[{"year":2024,"month":5,"date":1,"utc":true},{"year":2024,"month":6,"date":1,"utc":true},{"year":2024,"month":7,"date":1,"utc":true},{"year":2024,"month":8,"date":1,"utc":true},{"year":2024,"month":9,"date":1,"utc":true},{"year":2024,"month":10,"date":1,"utc":true},{"year":2024,"month":11,"date":1,"utc":true},{"year":2024,"month":12,"date":1,"utc":true}],"format":"%b","domain":false,"ticks":false,"tickSize":0,"grid":false,"labelColor":"#b2b5be","labelFontSize":11,"labelPadding":2,"labelFlush":false,"labelOverlap":false,"title":"TradingView","titleAnchor":"start","titleAlign":"left","titleX":-24,"titleY":35,"titleBaseline":"middle","titleColor":"#d1d4dc","titleFontSize":11.5,"titleFontWeight":500}},
   "y":{"datum":67.7,"type":"quantitative","scale":{"type":"linear","domain":[17.16,86.96],"range":[505,427],"nice":false,"zero":false},"axis":{"orient":"right","offset":-24,"values":[75,50,25],"format":".2f","domain":false,"ticks":false,"tickSize":0,"grid":false,"labelColor":"#b2b5be","labelFontSize":11,"labelPadding":9,"labelAlign":"left","labelBaseline":"middle","labelOverlap":false,"labelFlush":false,"labelBound":false,"title":null}},
   "text":{"field":"t"}}},
 {"data":{"values":[{"t":"68.20"}]},"mark":{"type":"text","align":"left","baseline":"middle","fontSize":11,"color":"#131722","clip":true},
  "encoding":{
   "x":{"datum":{"year":2024,"month":12,"date":15,"utc":true},"type":"temporal","scale":{"type":"utc","domain":[{"year":2024,"month":4,"date":22,"hours":14,"utc":true},{"year":2024,"month":12,"date":13,"hours":4,"utc":true}],"range":[0,1020]},"axis":{"orient":"bottom","offset":-17,"values":[{"year":2024,"month":5,"date":1,"utc":true},{"year":2024,"month":6,"date":1,"utc":true},{"year":2024,"month":7,"date":1,"utc":true},{"year":2024,"month":8,"date":1,"utc":true},{"year":2024,"month":9,"date":1,"utc":true},{"year":2024,"month":10,"date":1,"utc":true},{"year":2024,"month":11,"date":1,"utc":true},{"year":2024,"month":12,"date":1,"utc":true}],"format":"%b","domain":false,"ticks":false,"tickSize":0,"grid":false,"labelColor":"#b2b5be","labelFontSize":11,"labelPadding":2,"labelFlush":false,"labelOverlap":false,"title":"TradingView","titleAnchor":"start","titleAlign":"left","titleX":-24,"titleY":35,"titleBaseline":"middle","titleColor":"#d1d4dc","titleFontSize":11.5,"titleFontWeight":500}},
   "y":{"datum":67.7,"type":"quantitative","scale":{"type":"linear","domain":[17.16,86.96],"range":[505,427],"nice":false,"zero":false},"axis":{"orient":"right","offset":-24,"values":[75,50,25],"format":".2f","domain":false,"ticks":false,"tickSize":0,"grid":false,"labelColor":"#b2b5be","labelFontSize":11,"labelPadding":9,"labelAlign":"left","labelBaseline":"middle","labelOverlap":false,"labelFlush":false,"labelBound":false,"title":null}},
   "text":{"field":"t"}}}
]}
],
"resolve":{"scale":{"y":"independent"},"axis":{"y":"independent"}}
}
